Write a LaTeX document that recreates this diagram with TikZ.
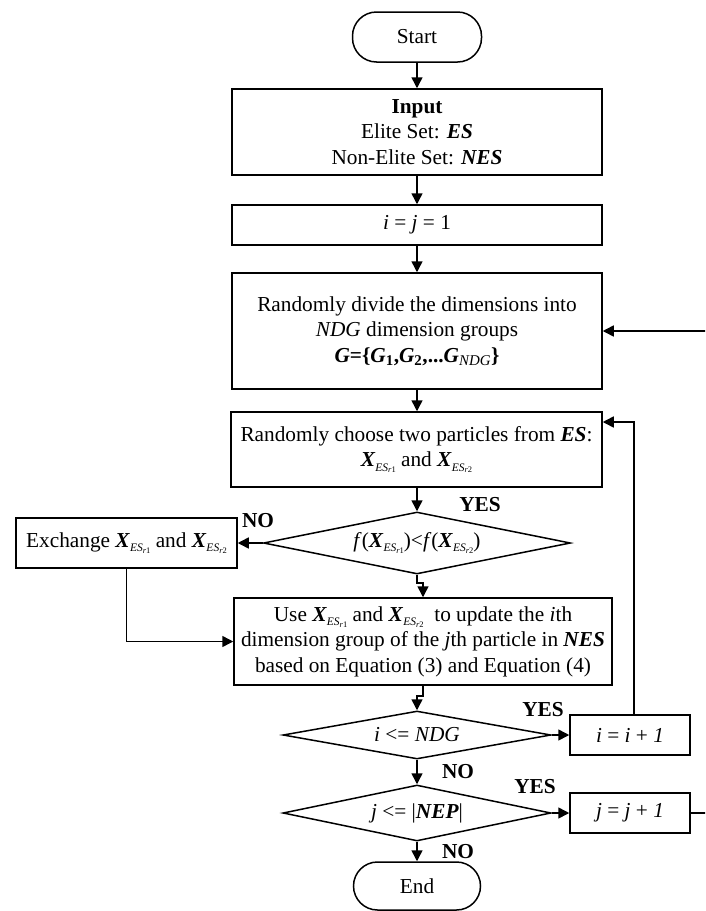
\documentclass[tikz,border=0pt]{standalone}
\usepackage{fontspec}
\setmainfont{Liberation Serif}
\usetikzlibrary{arrows.meta,shapes.geometric}
\newcommand{\xes}[1]{\textbf{\textit{X}}\raisebox{-0.45ex}{\fontsize{11.5}{11.5}\selectfont\textit{ES}\raisebox{-0.35ex}{\fontsize{8.5}{8.5}\selectfont\textit{r}#1}}}
\begin{document}
\begin{tikzpicture}[x=1pt,y=-1pt,
  base/.style={draw, line width=1.5pt, inner sep=0pt, align=center, font=\fontsize{21.3}{25.5}\selectfont},
  procbox/.style={base, rectangle},
  pill/.style={base, rectangle, rounded corners=24pt},
  dia/.style={base, diamond},
  lbl/.style={font=\fontsize{21.3}{24}\selectfont\bfseries, inner sep=0pt},
  arr/.style={line width=1.5pt, -{Triangle[length=11pt,width=11pt]}},
  ln/.style={line width=1.5pt}]
\clip (0,0) rectangle (705,911);
\node[pill, minimum width=129pt, minimum height=50pt] (start) at (417,37) {Start};
\node[procbox, minimum width=370pt, minimum height=86pt] (input) at (417,132)
  {\textbf{Input}\\Elite Set: \textbf{\textit{ES}}\\Non-Elite Set: \textbf{\textit{NES}}};
\node[procbox, minimum width=370pt, minimum height=40pt] (init) at (417,225) {\textit{i} = \textit{j} = 1};
\node[procbox, minimum width=370pt, minimum height=116pt] (divide) at (417,331)
  {Randomly divide the dimensions into\\\textit{NDG} dimension groups\\
   \textbf{\textit{G}=\{\textit{G}\textsubscript{1},\textit{G}\textsubscript{2},...\textit{G}\textsubscript{\textmd{\textit{NDG}}}\}}};
\node[procbox, minimum width=371pt, minimum height=75pt] (choose) at (416.5,449.5)
  {Randomly choose two particles from \textbf{\textit{ES}}:\\\xes{1} and \xes{2}};
\node[dia, aspect=4.95, minimum width=307pt, minimum height=62pt] (d1) at (417,543)
  {\textit{f}(\xes{1})<\textit{f}(\xes{2})};
\node[procbox, minimum width=221pt, minimum height=50pt] (exch) at (126.5,543)
  {Exchange \xes{1} and \xes{2}};
\node[procbox, minimum width=378pt, minimum height=87pt] (use) at (423,641.5)
  {Use \xes{1} and \xes{2}\ \ to update the \textit{i}th\\dimension group of the \textit{j}th particle in \textbf{\textit{NES}}\\based on Equation (3) and Equation (4)};
\node[dia, aspect=5.58, minimum width=268pt, minimum height=48pt] (d2) at (417,735) {\textit{i} <= \textit{NDG}};
\node[procbox, minimum width=120pt, minimum height=40pt] (inci) at (630,735) {\textit{i} = \textit{i} + \textit{1}};
\node[dia, aspect=4.79, minimum width=268pt, minimum height=56pt] (d3) at (417,813) {\textit{j} <= |\textbf{\textit{NEP}}|};
\node[procbox, minimum width=120pt, minimum height=40pt] (incj) at (630,813) {\textit{j} = \textit{j} + \textit{1}};
\node[pill, minimum width=127pt, minimum height=48pt] (end) at (417,886) {End};

\node[lbl] (yes1) at (480,505) {YES};
\node[lbl] (no1) at (258,521) {NO};
\node[lbl] (yes2) at (543,710) {YES};
\node[lbl] (no2) at (458,772) {NO};
\node[lbl] (yes3) at (535,787) {YES};
\node[lbl] (no3) at (458,852) {NO};

\coordinate (rj) at (712,813);
\coordinate (rd) at (712,331);

\draw[arr] (start) -- (input);
\draw[arr] (input) -- (init);
\draw[arr] (init) -- (divide);
\draw[arr] (divide) -- (choose.north -| divide.south);
\draw[arr] (choose.south -| d1.north) -- (d1.north);
\draw[arr] (d1.west) -- (exch.east);
\draw[arr] (d1.south) -- ++(0,8) -| (use.north);
\draw[arr] (exch.south) |- (use.west);
\draw[arr] (use.south) -- ++(0,10) -| (d2.north);
\draw[arr] (d2.east) -- (inci.west);
\draw[arr] ([xshift=4pt]inci.north) |- ([yshift=27.5pt]choose.east);
\draw[arr] (d2.south) -- (d3.north);
\draw[arr] (d3.east) -- (incj.west);
\draw[arr] (incj.east) -- (rj) -- (rd) -- (divide.east);
\draw[arr] (d3.south) -- (end.north);
\end{tikzpicture}
\end{document}
